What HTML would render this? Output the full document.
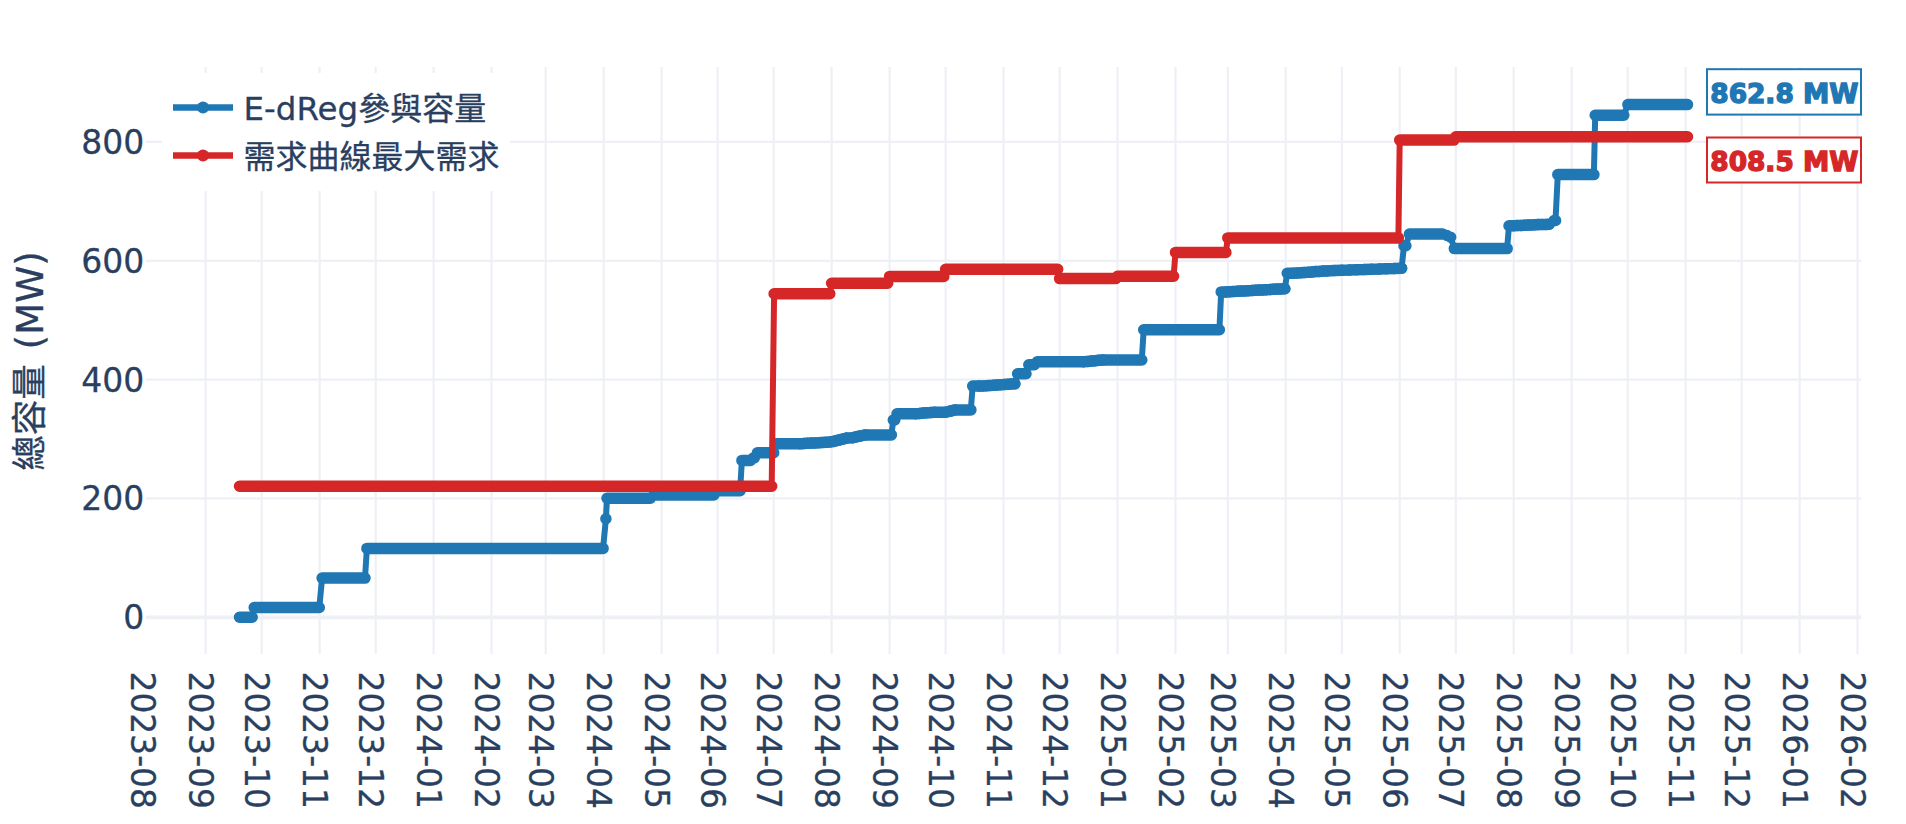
<!DOCTYPE html>
<html lang="zh-Hant"><head><meta charset="utf-8"><title>E-dReg</title>
<style>
html,body{margin:0;padding:0;background:#fff;}
body{width:1906px;height:824px;overflow:hidden;}
svg{display:block;}
text{font-family:"DejaVu Sans","Liberation Sans","Noto Sans CJK TC",sans-serif;fill:#2a3f5f;stroke:#2a3f5f;stroke-width:0.3px;}
.tk{font-size:32.5px;}
.cj{font-size:32px;}
.ann{font-family:"DejaVu Sans","Liberation Sans",sans-serif;font-weight:bold;font-size:27px;}
</style></head><body>
<svg width="1906" height="824" viewBox="0 0 1906 824">
<rect width="1906" height="824" fill="#fff"/>
<g stroke="#EEF0F5" stroke-width="2.2" fill="none">
<path d="M205.6,67.0V654.0"/><path d="M261.7,67.0V654.0"/><path d="M319.6,67.0V654.0"/><path d="M375.7,67.0V654.0"/><path d="M433.6,67.0V654.0"/><path d="M491.5,67.0V654.0"/><path d="M545.7,67.0V654.0"/><path d="M603.7,67.0V654.0"/><path d="M661.6,67.0V654.0"/><path d="M717.6,67.0V654.0"/><path d="M773.7,67.0V654.0"/><path d="M831.6,67.0V654.0"/><path d="M889.6,67.0V654.0"/><path d="M945.6,67.0V654.0"/><path d="M1003.5,67.0V654.0"/><path d="M1059.6,67.0V654.0"/><path d="M1117.5,67.0V654.0"/><path d="M1175.5,67.0V654.0"/><path d="M1227.8,67.0V654.0"/><path d="M1285.7,67.0V654.0"/><path d="M1341.8,67.0V654.0"/><path d="M1399.7,67.0V654.0"/><path d="M1455.8,67.0V654.0"/><path d="M1513.7,67.0V654.0"/><path d="M1571.6,67.0V654.0"/><path d="M1627.7,67.0V654.0"/><path d="M1685.6,67.0V654.0"/><path d="M1741.7,67.0V654.0"/><path d="M1799.6,67.0V654.0"/><path d="M1857.5,67.0V654.0"/>
<path d="M146.0,498.4H1861.0"/><path d="M146.0,379.6H1861.0"/><path d="M146.0,260.8H1861.0"/><path d="M146.0,141.9H1861.0"/>
<path d="M146.0,617.3H1861.0" stroke-width="3.8"/>
</g>
<path d="M239.5,617.3 L252.2,617.3 L254.2,607.5 L319.3,607.5 L322.1,578.1 L365.0,578.1 L366.9,548.4 L603.1,548.4 L605.9,518.7 L607.0,498.2 L650.4,498.2 L654.1,494.9 L713.9,494.9 L719.5,490.7 L740.1,490.7 L741.9,460.4 L750.5,460.4 L753.2,458.0 L754.3,458.0 L757.4,452.7 L773.7,452.7 L776.1,443.8 L799.9,443.8 L799.9,443.8 L803.6,443.6 L807.3,443.3 L811.1,443.1 L814.8,442.9 L818.6,442.7 L822.3,442.4 L826.0,442.2 L829.8,442.0 L833.5,441.4 L836.1,440.7 L838.7,440.1 L841.4,439.4 L844.0,438.8 L846.6,438.1 L852.2,437.8 L854.8,437.2 L857.4,436.6 L860.0,436.1 L862.7,435.5 L865.3,434.9 L865.3,434.9 L891.4,434.9 L893.3,420.0 L894.8,420.0 L897.0,413.7 L915.7,413.7 L915.7,413.7 L919.5,413.4 L923.2,413.1 L926.9,412.8 L930.7,412.6 L934.4,412.3 L934.4,412.3 L945.6,412.3 L945.6,412.3 L950.3,411.1 L955.0,409.9 L955.0,409.9 L970.8,409.9 L972.7,386.1 L979.3,386.1 L979.3,386.1 L982.8,385.9 L986.4,385.7 L989.9,385.4 L993.5,385.2 L997.0,384.9 L1000.6,384.7 L1004.1,384.5 L1007.7,384.2 L1011.2,384.0 L1014.8,383.8 L1017.6,373.7 L1026.0,373.7 L1028.8,364.7 L1034.4,364.7 L1037.2,361.8 L1083.9,361.8 L1083.9,361.8 L1087.6,361.4 L1091.4,361.1 L1095.1,360.7 L1098.8,360.3 L1102.6,360.0 L1102.6,360.0 L1141.8,360.0 L1143.7,329.7 L1219.4,329.7 L1221.2,291.9 L1225.9,291.9 L1225.9,291.9 L1229.6,291.7 L1233.3,291.5 L1237.0,291.3 L1240.6,291.1 L1244.3,290.9 L1248.0,290.7 L1251.7,290.5 L1255.3,290.3 L1259.0,290.1 L1262.7,289.9 L1266.4,289.7 L1270.1,289.5 L1273.7,289.3 L1277.4,289.1 L1281.1,288.9 L1284.8,288.7 L1287.2,273.2 L1293.2,273.2 L1293.2,273.2 L1296.9,273.0 L1300.7,272.7 L1304.4,272.4 L1308.1,272.2 L1311.9,271.9 L1315.6,271.6 L1319.3,271.4 L1323.1,271.1 L1326.8,270.9 L1326.8,270.9 L1334.3,270.6 L1341.8,270.3 L1349.2,270.1 L1356.7,269.8 L1364.2,269.6 L1371.7,269.3 L1379.1,269.1 L1386.6,268.8 L1394.1,268.6 L1401.6,268.3 L1404.0,245.7 L1405.9,245.7 L1409.4,234.1 L1442.7,234.1 L1447.0,235.5 L1450.7,237.2 L1454.3,248.6 L1507.1,248.6 L1509.0,225.7 L1513.7,225.7 L1513.7,225.7 L1517.2,225.5 L1520.8,225.4 L1524.3,225.2 L1527.9,225.1 L1531.4,224.9 L1535.0,224.8 L1538.5,224.6 L1542.1,224.5 L1545.6,224.4 L1549.2,224.2 L1554.1,220.5 L1555.5,220.5 L1557.8,174.6 L1593.9,174.6 L1595.2,115.3 L1623.8,115.3 L1627.9,104.6 L1687.5,104.6" fill="none" stroke="#1f77b4" stroke-width="6" stroke-linejoin="round" stroke-linecap="round"/>
<path d="M239.5,617.3H252.2 M254.2,607.5H319.3 M322.1,578.1H365.0 M366.9,548.4H603.1 M605.9,518.7H605.9 M607.0,498.2H650.4 M654.1,494.9H713.9 M719.5,490.7H740.1 M741.9,460.4H750.5 M753.2,458.0H754.3 M757.4,452.7H773.7 M776.1,443.8H799.9 M799.9,443.8H799.9 M803.6,443.6H803.6 M807.3,443.3H807.4 M811.1,443.1H811.1 M814.8,442.9H814.8 M818.6,442.7H818.6 M822.3,442.4H822.3 M826.0,442.2H826.0 M829.8,442.0H829.8 M833.5,441.4H833.5 M836.1,440.7H836.1 M838.7,440.1H838.7 M841.4,439.4H841.4 M844.0,438.8H844.0 M846.6,438.1H846.6 M852.2,437.8H852.2 M854.8,437.2H854.8 M857.4,436.6H857.4 M860.0,436.1H860.0 M862.7,435.5H862.7 M865.3,434.9H865.3 M865.3,434.9H891.4 M893.3,420.0H894.8 M897.0,413.7H915.7 M915.7,413.7H915.7 M919.5,413.4H919.5 M923.2,413.1H923.2 M926.9,412.8H926.9 M930.7,412.6H930.7 M934.4,412.3H934.4 M934.4,412.3H945.6 M945.6,412.3H945.6 M950.3,411.1H950.3 M955.0,409.9H955.0 M955.0,409.9H970.9 M972.7,386.1H979.3 M979.3,386.1H979.3 M982.8,385.9H982.8 M986.4,385.7H986.4 M989.9,385.4H989.9 M993.5,385.2H993.5 M997.0,384.9H997.0 M1000.6,384.7H1000.6 M1004.1,384.5H1004.1 M1007.7,384.2H1007.7 M1011.2,384.0H1011.2 M1014.8,383.8H1014.8 M1017.6,373.7H1026.0 M1028.8,364.7H1034.4 M1037.2,361.8H1083.9 M1083.9,361.8H1083.9 M1087.6,361.4H1087.6 M1091.4,361.1H1091.4 M1095.1,360.7H1095.1 M1098.8,360.3H1098.9 M1102.6,360.0H1102.6 M1102.6,360.0H1141.8 M1143.7,329.7H1219.4 M1221.2,291.9H1225.9 M1225.9,291.9H1225.9 M1229.6,291.7H1229.6 M1233.3,291.5H1233.3 M1237.0,291.3H1237.0 M1240.6,291.1H1240.6 M1244.3,290.9H1244.3 M1248.0,290.7H1248.0 M1251.7,290.5H1251.7 M1255.3,290.3H1255.4 M1259.0,290.1H1259.0 M1262.7,289.9H1262.7 M1266.4,289.7H1266.4 M1270.1,289.5H1270.1 M1273.7,289.3H1273.8 M1277.4,289.1H1277.4 M1281.1,288.9H1281.1 M1284.8,288.7H1284.8 M1287.2,273.2H1293.2 M1293.2,273.2H1293.2 M1296.9,273.0H1296.9 M1300.7,272.7H1300.7 M1304.4,272.4H1304.4 M1308.1,272.2H1308.1 M1311.9,271.9H1311.9 M1315.6,271.6H1315.6 M1319.3,271.4H1319.4 M1323.1,271.1H1323.1 M1326.8,270.9H1326.8 M1326.8,270.9H1326.8 M1334.3,270.6H1334.3 M1341.8,270.3H1341.8 M1349.2,270.1H1349.3 M1356.7,269.8H1356.7 M1364.2,269.6H1364.2 M1371.7,269.3H1371.7 M1379.1,269.1H1379.2 M1386.6,268.8H1386.6 M1394.1,268.6H1394.1 M1401.6,268.3H1401.6 M1404.0,245.7H1405.9 M1409.4,234.1H1442.7 M1447.0,235.5H1447.0 M1450.7,237.2H1450.7 M1454.3,248.6H1507.2 M1509.0,225.7H1513.7 M1513.7,225.7H1513.7 M1517.2,225.5H1517.2 M1520.8,225.4H1520.8 M1524.3,225.2H1524.3 M1527.9,225.1H1527.9 M1531.4,224.9H1531.5 M1535.0,224.8H1535.0 M1538.5,224.6H1538.6 M1542.1,224.5H1542.1 M1545.6,224.4H1545.7 M1549.2,224.2H1549.2 M1554.1,220.5H1555.6 M1557.8,174.6H1593.9 M1595.2,115.3H1623.8 M1627.9,104.6H1687.5" fill="none" stroke="#1f77b4" stroke-width="11.5" stroke-linecap="round"/>
<path d="M799.9,443.8L803.6,443.6 M803.6,443.6L807.3,443.3 M807.3,443.3L811.1,443.1 M811.1,443.1L814.8,442.9 M814.8,442.9L818.6,442.7 M818.6,442.7L822.3,442.4 M822.3,442.4L826.0,442.2 M826.0,442.2L829.8,442.0 M829.8,442.0L833.5,441.4 M833.5,441.4L836.1,440.7 M836.1,440.7L838.7,440.1 M838.7,440.1L841.4,439.4 M841.4,439.4L844.0,438.8 M844.0,438.8L846.6,438.1 M846.6,438.1L852.2,437.8 M852.2,437.8L854.8,437.2 M854.8,437.2L857.4,436.6 M857.4,436.6L860.0,436.1 M860.0,436.1L862.7,435.5 M862.7,435.5L865.3,434.9 M915.7,413.7L919.5,413.4 M919.5,413.4L923.2,413.1 M923.2,413.1L926.9,412.8 M926.9,412.8L930.7,412.6 M930.7,412.6L934.4,412.3 M945.6,412.3L950.3,411.1 M950.3,411.1L955.0,409.9 M979.3,386.1L982.8,385.9 M982.8,385.9L986.4,385.7 M986.4,385.7L989.9,385.4 M989.9,385.4L993.5,385.2 M993.5,385.2L997.0,384.9 M997.0,384.9L1000.6,384.7 M1000.6,384.7L1004.1,384.5 M1004.1,384.5L1007.7,384.2 M1007.7,384.2L1011.2,384.0 M1011.2,384.0L1014.8,383.8 M1083.9,361.8L1087.6,361.4 M1087.6,361.4L1091.4,361.1 M1091.4,361.1L1095.1,360.7 M1095.1,360.7L1098.8,360.3 M1098.8,360.3L1102.6,360.0 M1225.9,291.9L1229.6,291.7 M1229.6,291.7L1233.3,291.5 M1233.3,291.5L1237.0,291.3 M1237.0,291.3L1240.6,291.1 M1240.6,291.1L1244.3,290.9 M1244.3,290.9L1248.0,290.7 M1248.0,290.7L1251.7,290.5 M1251.7,290.5L1255.3,290.3 M1255.3,290.3L1259.0,290.1 M1259.0,290.1L1262.7,289.9 M1262.7,289.9L1266.4,289.7 M1266.4,289.7L1270.1,289.5 M1270.1,289.5L1273.7,289.3 M1273.7,289.3L1277.4,289.1 M1277.4,289.1L1281.1,288.9 M1281.1,288.9L1284.8,288.7 M1293.2,273.2L1296.9,273.0 M1296.9,273.0L1300.7,272.7 M1300.7,272.7L1304.4,272.4 M1304.4,272.4L1308.1,272.2 M1308.1,272.2L1311.9,271.9 M1311.9,271.9L1315.6,271.6 M1315.6,271.6L1319.3,271.4 M1319.3,271.4L1323.1,271.1 M1323.1,271.1L1326.8,270.9 M1326.8,270.9L1326.8,270.9 M1326.8,270.9L1334.3,270.6 M1334.3,270.6L1341.8,270.3 M1341.8,270.3L1349.2,270.1 M1349.2,270.1L1356.7,269.8 M1356.7,269.8L1364.2,269.6 M1364.2,269.6L1371.7,269.3 M1371.7,269.3L1379.1,269.1 M1379.1,269.1L1386.6,268.8 M1386.6,268.8L1394.1,268.6 M1394.1,268.6L1401.6,268.3 M1513.7,225.7L1517.2,225.5 M1517.2,225.5L1520.8,225.4 M1520.8,225.4L1524.3,225.2 M1524.3,225.2L1527.9,225.1 M1527.9,225.1L1531.4,224.9 M1531.4,224.9L1535.0,224.8 M1535.0,224.8L1538.5,224.6 M1538.5,224.6L1542.1,224.5 M1542.1,224.5L1545.6,224.4 M1545.6,224.4L1549.2,224.2" fill="none" stroke="#1f77b4" stroke-width="11.5" stroke-linecap="round"/>
<path d="M239.5,486.3 L771.7,486.3 L774.1,293.7 L829.8,293.7 L831.6,283.2 L887.7,283.2 L889.6,276.4 L943.8,276.4 L945.6,269.3 L1057.7,269.3 L1059.6,278.6 L1115.7,278.6 L1117.5,276.2 L1173.6,276.2 L1175.5,252.4 L1225.9,252.4 L1227.8,237.9 L1398.4,237.9 L1399.7,140.1 L1453.9,140.1 L1455.8,136.8 L1687.5,136.8" fill="none" stroke="#d62728" stroke-width="6" stroke-linejoin="round" stroke-linecap="round"/>
<path d="M239.5,486.3H771.7 M774.1,293.7H829.8 M831.6,283.2H887.7 M889.6,276.4H943.8 M945.6,269.3H1057.7 M1059.6,278.6H1115.7 M1117.5,276.2H1173.6 M1175.5,252.4H1225.9 M1227.8,237.9H1398.4 M1399.7,140.1H1453.9 M1455.8,136.8H1687.5" fill="none" stroke="#d62728" stroke-width="11.5" stroke-linecap="round"/>
<rect x="162" y="73" width="348" height="118" fill="#fff"/>
<path d="M173,107.5H233" stroke="#1f77b4" stroke-width="6.5"/><circle cx="203" cy="107.5" r="6" fill="#1f77b4"/>
<text class="tk" x="243.5" y="119.8">E-dReg<tspan class="cj">參與容量</tspan></text>
<path d="M173,155.5H233" stroke="#d62728" stroke-width="6.5"/><circle cx="203" cy="155.5" r="6" fill="#d62728"/>
<text class="tk" x="243.5" y="167.8"><tspan class="cj">需求曲線最大需求</tspan></text>
<rect x="1707" y="69.2" width="154" height="45.4" fill="#fff" stroke="#1f77b4" stroke-width="2"/>
<text class="ann" x="1784.3" y="102.5" text-anchor="middle" textLength="148" lengthAdjust="spacingAndGlyphs" style="fill:#1f77b4;stroke:#1f77b4;stroke-width:1.4px">862.8 MW</text>
<rect x="1707" y="137.5" width="154" height="45.0" fill="#fff" stroke="#d62728" stroke-width="2"/>
<text class="ann" x="1784.3" y="170.6" text-anchor="middle" textLength="148" lengthAdjust="spacingAndGlyphs" style="fill:#d62728;stroke:#d62728;stroke-width:1.4px">808.5 MW</text>
<text class="tk" x="144.3" y="629.2" text-anchor="end" style="font-size:33px">0</text>
<text class="tk" x="144.3" y="510.3" text-anchor="end" style="font-size:33px">200</text>
<text class="tk" x="144.3" y="391.5" text-anchor="end" style="font-size:33px">400</text>
<text class="tk" x="144.3" y="272.6" text-anchor="end" style="font-size:33px">600</text>
<text class="tk" x="144.3" y="153.8" text-anchor="end" style="font-size:33px">800</text>
<text class="tk" transform="translate(131.1,671.5) rotate(90)" style="font-size:32.9px">2023-08</text>
<text class="tk" transform="translate(189.0,671.5) rotate(90)" style="font-size:32.9px">2023-09</text>
<text class="tk" transform="translate(245.1,671.5) rotate(90)" style="font-size:32.9px">2023-10</text>
<text class="tk" transform="translate(303.0,671.5) rotate(90)" style="font-size:32.9px">2023-11</text>
<text class="tk" transform="translate(359.1,671.5) rotate(90)" style="font-size:32.9px">2023-12</text>
<text class="tk" transform="translate(417.0,671.5) rotate(90)" style="font-size:32.9px">2024-01</text>
<text class="tk" transform="translate(474.9,671.5) rotate(90)" style="font-size:32.9px">2024-02</text>
<text class="tk" transform="translate(529.1,671.5) rotate(90)" style="font-size:32.9px">2024-03</text>
<text class="tk" transform="translate(587.1,671.5) rotate(90)" style="font-size:32.9px">2024-04</text>
<text class="tk" transform="translate(645.0,671.5) rotate(90)" style="font-size:32.9px">2024-05</text>
<text class="tk" transform="translate(701.0,671.5) rotate(90)" style="font-size:32.9px">2024-06</text>
<text class="tk" transform="translate(757.1,671.5) rotate(90)" style="font-size:32.9px">2024-07</text>
<text class="tk" transform="translate(815.0,671.5) rotate(90)" style="font-size:32.9px">2024-08</text>
<text class="tk" transform="translate(873.0,671.5) rotate(90)" style="font-size:32.9px">2024-09</text>
<text class="tk" transform="translate(929.0,671.5) rotate(90)" style="font-size:32.9px">2024-10</text>
<text class="tk" transform="translate(986.9,671.5) rotate(90)" style="font-size:32.9px">2024-11</text>
<text class="tk" transform="translate(1043.0,671.5) rotate(90)" style="font-size:32.9px">2024-12</text>
<text class="tk" transform="translate(1100.9,671.5) rotate(90)" style="font-size:32.9px">2025-01</text>
<text class="tk" transform="translate(1158.9,671.5) rotate(90)" style="font-size:32.9px">2025-02</text>
<text class="tk" transform="translate(1211.2,671.5) rotate(90)" style="font-size:32.9px">2025-03</text>
<text class="tk" transform="translate(1269.1,671.5) rotate(90)" style="font-size:32.9px">2025-04</text>
<text class="tk" transform="translate(1325.2,671.5) rotate(90)" style="font-size:32.9px">2025-05</text>
<text class="tk" transform="translate(1383.1,671.5) rotate(90)" style="font-size:32.9px">2025-06</text>
<text class="tk" transform="translate(1439.2,671.5) rotate(90)" style="font-size:32.9px">2025-07</text>
<text class="tk" transform="translate(1497.1,671.5) rotate(90)" style="font-size:32.9px">2025-08</text>
<text class="tk" transform="translate(1555.0,671.5) rotate(90)" style="font-size:32.9px">2025-09</text>
<text class="tk" transform="translate(1611.1,671.5) rotate(90)" style="font-size:32.9px">2025-10</text>
<text class="tk" transform="translate(1669.0,671.5) rotate(90)" style="font-size:32.9px">2025-11</text>
<text class="tk" transform="translate(1725.1,671.5) rotate(90)" style="font-size:32.9px">2025-12</text>
<text class="tk" transform="translate(1783.0,671.5) rotate(90)" style="font-size:32.9px">2026-01</text>
<text class="tk" transform="translate(1840.9,671.5) rotate(90)" style="font-size:32.9px">2026-02</text>
<text transform="translate(43,361) rotate(-90)" text-anchor="middle" style="font-size:37.4px"><tspan style="font-size:35.6px" dy="-1.5">總容量</tspan><tspan dy="1.5" dx="2.7"> (MW)</tspan></text>
</svg>
</body></html>
